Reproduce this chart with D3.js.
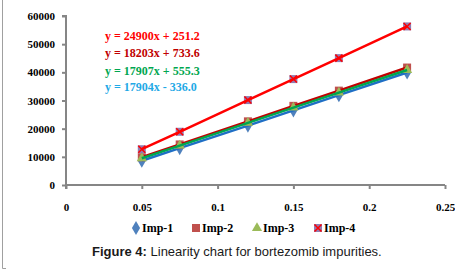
<!DOCTYPE html>
<html>
<head>
<meta charset="utf-8">
<script src="https://cdn.jsdelivr.net/npm/d3@7"></script>
<style>
  body { margin: 0; background: #fff; }
  svg { display: block; }
</style>
</head>
<body>
<script>
// Concentrations (x)
const concentrations = [0.05, 0.075, 0.12, 0.15, 0.18, 0.225]

// Peak areas per impurity
const imp1 = [8600, 13100, 21100, 26500, 31900, 39950]
const imp2 = [9850, 14400, 22600, 28100, 33500, 41700]
const imp3 = [9500, 14000, 22050, 27450, 32800, 40850]
const imp4 = [12700, 18900, 30150, 37600, 45050, 56300]

const seriesNames = ['Imp-1', 'Imp-2', 'Imp-3', 'Imp-4']
const equations = ['y = 24900x + 251.2', 'y = 18203x + 733.6', 'y = 17907x + 555.3', 'y = 17904x - 336.0']

const xTicks = [0, 0.05, 0.1, 0.15, 0.2, 0.25]
const yTicks = [0, 10000, 20000, 30000, 40000, 50000, 60000]

const W = 455, H = 271
const svg = d3.select('body').append('svg').attr('width', W).attr('height', H)

const x = d3.scaleLinear().domain([0, 0.25]).range([66, 445])
const y = d3.scaleLinear().domain([0, 60000]).range([185, 16])

// frame remnant on the left
svg.append('path')
  .attr('d', 'M2.5,0 V268.5 H6')
  .attr('fill', 'none').attr('stroke', '#a0a0a0').attr('stroke-width', 1)

const serif = 'Liberation Serif, Times New Roman, serif'

// axes
const yAxis = svg.append('g').attr('transform', `translate(${x(0)},0)`)
  .call(d3.axisLeft(y).tickValues(yTicks).tickSize(4).tickPadding(7).tickFormat(d3.format('d')))
const xAxis = svg.append('g').attr('transform', `translate(0,${y(0)})`)
  .call(d3.axisBottom(x).tickValues(xTicks).tickSize(4).tickPadding(14)
    .tickFormat(d => d === 0 ? '0' : String(d)))

;[yAxis, xAxis].forEach(a => {
  a.select('.domain').attr('stroke', '#868686').attr('stroke-width', 2)
  a.selectAll('.tick line').attr('stroke', '#868686').attr('stroke-width', 2)
  a.selectAll('text')
    .style('font-family', serif).style('font-weight', 'bold')
    .style('font-size', '11px').attr('fill', '#000')
})
yAxis.select('.domain').attr('d', `M-4,${y(60000)}H0V${y(0) + 4}`)
xAxis.select('.domain').attr('d', `M${x(0)},0H${x(0.25)}`)

const seriesData = [imp1, imp2, imp3, imp4]
const lineColors = ['#1f6fc5', '#c00000', '#00a650', '#ff0000']
const markerFill = ['#4f81bd', '#c0504d', '#9bbb59', '#8064a2']
const eqColors = ['#ff0000', '#c00000', '#00a650', '#1fa9e6']

const line = d3.line().x(d => x(d[0])).y(d => y(d[1]))

function drawMarker(g, k, cx, cy, s) {
  if (k === 0) {
    g.append('path').attr('d', d3.symbol(d3.symbolDiamond, s * s * 0.9)())
      .attr('transform', `translate(${cx},${cy})`).attr('fill', markerFill[0])
  } else if (k === 1) {
    g.append('rect').attr('x', cx - s / 2).attr('y', cy - s / 2)
      .attr('width', s).attr('height', s).attr('fill', markerFill[1])
  } else if (k === 2) {
    g.append('path').attr('d', d3.symbol(d3.symbolTriangle, s * s * 0.7)())
      .attr('transform', `translate(${cx},${cy})`).attr('fill', markerFill[2])
  } else {
    g.append('rect').attr('x', cx - s / 2).attr('y', cy - s / 2)
      .attr('width', s).attr('height', s).attr('fill', markerFill[3]).attr('opacity', 0.85)
    const h = s / 2 - 0.5
    g.append('path').attr('d', `M${cx - h},${cy - h}L${cx + h},${cy + h}M${cx - h},${cy + h}L${cx + h},${cy - h}`)
      .attr('stroke', '#ff0000').attr('stroke-width', 1.5)
  }
}

seriesData.forEach((vals, k) => {
  const pts = concentrations.map((c, i) => [c, vals[i]])
  const g = svg.append('g')
  pts.forEach(p => drawMarker(g, k, x(p[0]), y(p[1]), 8))
  g.append('path').attr('d', line(pts))
    .attr('fill', 'none').attr('stroke', lineColors[k]).attr('stroke-width', 2.5)
})

// regression equations
const eqY = [40, 57, 75, 91]
equations.forEach((t, i) => {
  svg.append('text').attr('x', 105).attr('y', eqY[i])
    .style('font-family', serif).style('font-weight', 'bold').style('font-size', '12px')
    .attr('fill', eqColors[i]).text(t)
})

// legend
const legX = [136, 196, 257, 318]
const legend = svg.append('g')
seriesNames.forEach((n, k) => {
  drawMarker(legend, k, legX[k], 228, 8)
  legend.append('text').attr('x', legX[k] + 6).attr('y', 232)
    .style('font-family', serif).style('font-weight', 'bold').style('font-size', '12px')
    .attr('fill', '#000').text(n)
})

// caption
const cap = svg.append('text').attr('x', 92).attr('y', 255.5)
  .style('font-family', 'Liberation Sans, Arial, sans-serif').style('font-size', '13px').attr('fill', '#1a1a1a')
cap.append('tspan').style('font-weight', 'bold').text('Figure 4:')
cap.append('tspan').text(' Linearity chart for bortezomib impurities.')
</script>
</body>
</html>
